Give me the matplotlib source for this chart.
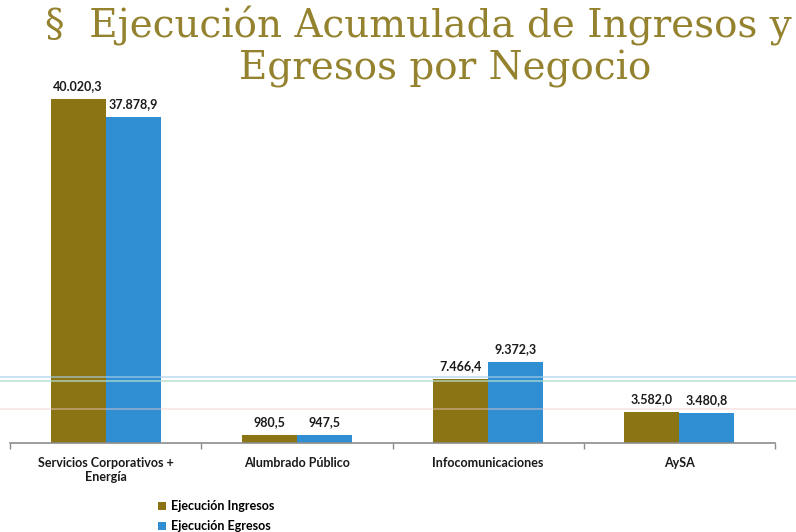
import numpy as np
import matplotlib.pyplot as plt
from matplotlib.lines import Line2D

categories = ['Servicios Corporativos +\nEnergía', 'Alumbrado Público', 'Infocomunicaciones', 'AySA']
ingresos = [40020.3, 980.5, 7466.4, 3582.0]
egresos = [37878.9, 947.5, 9372.3, 3480.8]
series_names = ['Ejecución Ingresos', 'Ejecución Egresos']

col_ing = '#8a7414'
col_egr = '#2f8fd2'


def fmt_es(v):
    s = '{:,.1f}'.format(v)
    return s.replace(',', 'X').replace('.', ',').replace('X', '.')


fig = plt.figure(figsize=(7.96, 5.32), dpi=100)
W, H = 796, 532
ax_left, ax_right = 10, 775
ax_bottom = 443
ymax = 44000
px_per_unit = 344 / 40020.3
ax_h = ymax * px_per_unit
ax = fig.add_axes([ax_left / W, (H - ax_bottom) / H, (ax_right - ax_left) / W, ax_h / H])

x = np.arange(len(categories))
w = 0.288
b1 = ax.bar(x - w / 2, ingresos, w, color=col_ing, label=series_names[0])
b2 = ax.bar(x + w / 2, egresos, w, color=col_egr, label=series_names[1])

lab_font = dict(family='Lato', fontweight='bold', fontsize=9, color='#1a1a1a')
for bars, vals in ((b1, ingresos), (b2, egresos)):
    for r, v in zip(bars, vals):
        ax.annotate(fmt_es(v), (r.get_x() + r.get_width() / 2, v),
                    xytext=(0, 5), textcoords='offset points',
                    ha='center', va='bottom', **lab_font)

ax.set_xlim(-0.5, len(categories) - 0.5)
ax.set_ylim(0, ymax)
for s in ['top', 'right', 'left']:
    ax.spines[s].set_visible(False)
ax.spines['bottom'].set_color('#8c8c8c')
ax.spines['bottom'].set_linewidth(1.2)
ax.set_yticks([])
ax.set_xticks(x)
ax.set_xticklabels(categories, **lab_font)
ax.tick_params(axis='x', which='major', length=0, pad=10)
ax.set_xticks(np.arange(-0.5, len(categories)), minor=True)
ax.tick_params(axis='x', which='minor', length=4, color='#8c8c8c', width=1)

# faint scan lines across the page
for yy, c, a in ((377, '#a6cfe8', 0.7), (381, '#b0dccd', 0.8), (409, '#f2cccc', 0.5)):
    fig.add_artist(Line2D([0, 1], [(H - yy) / H] * 2, color=c, lw=1.2, alpha=a,
                          transform=fig.transFigure))

title_kw = dict(family='DejaVu Serif', fontsize=28, color='#94822f', va='baseline', ha='center')
fig.text(418 / W, 1 - 37 / H, '§  Ejecución Acumulada de Ingresos y', **title_kw)
fig.text(445 / W, 1 - 80 / H, 'Egresos por Negocio', **title_kw)

leg = fig.legend(handles=[b1, b2], loc='upper left', bbox_to_anchor=(147 / W, 1 - 489 / H),
                 frameon=False, handlelength=0.6, handleheight=0.6, handletextpad=0.45,
                 labelspacing=0.65, prop=dict(family='Lato', weight='bold', size=9))

fig.savefig('out.png', dpi=100)
